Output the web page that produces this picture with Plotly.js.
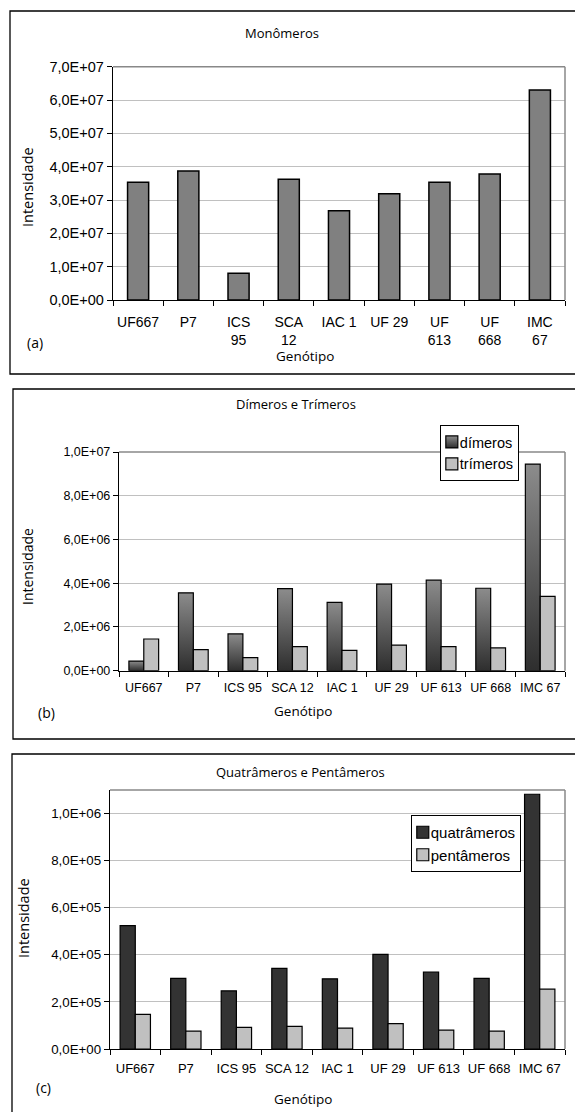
<!DOCTYPE html>
<html>
<head>
<meta charset="utf-8">
<script src="https://cdn.plot.ly/plotly-3.0.1.min.js"></script>
<style>
html,body{margin:0;padding:0;background:#fff;}
#chart{width:575px;height:1112px;}
</style>
</head>
<body>
<div id="chart"></div>
<script>
// ---------- data ----------
const genotipos = ["UF667","P7","ICS 95","SCA 12","IAC 1","UF 29","UF 613","UF 668","IMC 67"];
const genotiposA = ["UF667","P7","ICS<br>95","SCA<br>12","IAC 1","UF 29","UF<br>613","UF<br>668","IMC<br>67"];

const monomeros   = [3.53e7, 3.87e7, 0.80e7, 3.62e7, 2.68e7, 3.19e7, 3.53e7, 3.78e7, 6.30e7];
const dimeros     = [0.44e6, 3.56e6, 1.68e6, 3.75e6, 3.12e6, 3.96e6, 4.14e6, 3.77e6, 9.45e6];
const trimeros    = [1.45e6, 0.96e6, 0.60e6, 1.10e6, 0.93e6, 1.17e6, 1.10e6, 1.04e6, 3.40e6];
const quatrameros = [5.24e5, 3.00e5, 2.47e5, 3.42e5, 2.98e5, 4.02e5, 3.27e5, 3.00e5, 1.082e6];
const pentameros  = [1.47e5, 0.76e5, 0.92e5, 0.96e5, 0.89e5, 1.08e5, 0.80e5, 0.76e5, 2.54e5];

const ticksA = [0,1e7,2e7,3e7,4e7,5e7,6e7,7e7];
const tickTextA = ["0,0E+00","1,0E+07","2,0E+07","3,0E+07","4,0E+07","5,0E+07","6,0E+07","7,0E+07"];
const ticksB = [0,2e6,4e6,6e6,8e6,1e7];
const tickTextB = ["0,0E+00","2,0E+06","4,0E+06","6,0E+06","8,0E+06","1,0E+07"];
const ticksC = [0,2e5,4e5,6e5,8e5,1e6];
const tickTextC = ["0,0E+00","2,0E+05","4,0E+05","6,0E+05","8,0E+05","1,0E+06"];

// ---------- layout helpers ----------
const W = 575, H = 1112;
const fx = x => x / W;
const fy = y => 1 - y / H;
const TICKFONT = "Arial, 'Liberation Sans', sans-serif";
const TXTFONT = "'Open Sans', 'Noto Sans', sans-serif";

function xAx(l, r, anchor, size, standoff){
  return {domain:[fx(l), fx(r)], anchor:anchor, type:'category', showline:true, linecolor:'#000', linewidth:1.2,
    ticks:'outside', tickson:'boundaries', ticklen:5, tickcolor:'#000', tickwidth:1, showgrid:false, tickangle:0,
    ticklabelstandoff:standoff,
    tickfont:{family:TICKFONT, size:size, color:'#000'}, fixedrange:true};
}
function yAx(bottom, top, anchor, range, vals, text, size){
  return {domain:[fy(bottom), fy(top)], anchor:anchor, range:range, tickmode:'array', tickvals:vals, ticktext:text,
    showline:true, linecolor:'#000', linewidth:1.2, ticks:'outside', ticklen:5, tickcolor:'#000', tickwidth:1,
    showgrid:true, gridcolor:'#c0c0c0', gridwidth:1, zeroline:false,
    tickfont:{family:TICKFONT, size:size, color:'#000'}, fixedrange:true};
}

const traces = [
  {type:'bar', x:genotiposA, y:monomeros, xaxis:'x', yaxis:'y', width:0.42, showlegend:false,
   marker:{color:'#808080', line:{color:'#000', width:1.5}}},
  {type:'bar', name:'dímeros', x:genotipos, y:dimeros, xaxis:'x2', yaxis:'y2', legend:'legend',
   marker:{color:'#5c5c5c', line:{color:'#000', width:1.2}}},
  {type:'bar', name:'trímeros', x:genotipos, y:trimeros, xaxis:'x2', yaxis:'y2', legend:'legend',
   marker:{color:'#c0c0c0', line:{color:'#000', width:1.2}}},
  {type:'bar', name:'quatrâmeros', x:genotipos, y:quatrameros, xaxis:'x3', yaxis:'y3', legend:'legend2',
   marker:{color:'#333333', line:{color:'#000', width:1.2}}},
  {type:'bar', name:'pentâmeros', x:genotipos, y:pentameros, xaxis:'x3', yaxis:'y3', legend:'legend2',
   marker:{color:'#c0c0c0', line:{color:'#000', width:1.2}}}
];

function frame(x0,y0,x1,y1){
  return {type:'rect', xref:'paper', yref:'paper', x0:fx(x0), x1:fx(x1), y0:fy(y1), y1:fy(y0),
    line:{color:'#000', width:1.3}, fillcolor:'rgba(0,0,0,0)', layer:'below'};
}
function border(xa, ya){
  return [
    {type:'line', xref:xa+' domain', yref:ya+' domain', x0:0, x1:1, y0:1, y1:1, line:{color:'#888', width:1.5}},
    {type:'line', xref:xa+' domain', yref:ya+' domain', x0:1, x1:1, y0:0, y1:1, line:{color:'#888', width:1.5}}
  ];
}
function ann(text, x, y, size, extra){
  return Object.assign({text:text, xref:'paper', yref:'paper', x:fx(x), y:fy(y), showarrow:false,
    xanchor:'center', yanchor:'middle', font:{family:TXTFONT, size:size, color:'#000'}}, extra||{});
}

const LEG_RIGHT = {legend:518, legend2:520};

const layout = {
  width:W, height:H, margin:{l:0,r:0,t:0,b:0}, paper_bgcolor:'#fff', plot_bgcolor:'#fff',
  barmode:'group', bargap:0.4, bargroupgap:0,
  font:{family:TICKFONT, color:'#000'},
  xaxis: xAx(113, 565, 'y', 14, 9),
  yaxis: yAx(300, 66.7, 'x', [0,7e7], ticksA, tickTextA, 14.5),
  xaxis2: xAx(119, 565, 'y2', 12.5, 5),
  yaxis2: yAx(670.7, 452, 'x2', [0,1e7], ticksB, tickTextB, 12.5),
  xaxis3: xAx(110, 565, 'y3', 13, 7),
  yaxis3: yAx(1049, 790, 'x3', [0,1.1e6], ticksC, tickTextC, 13.3),
  legend: {x:fx(518), y:fy(425), xanchor:'right', yanchor:'top', bgcolor:'#fff', bordercolor:'#000', borderwidth:1,
    font:{family:TICKFONT, size:14.5, color:'#000'}, itemwidth:30, tracegroupgap:0},
  legend2: {x:fx(520), y:fy(815), xanchor:'right', yanchor:'top', bgcolor:'#fff', bordercolor:'#000', borderwidth:1,
    font:{family:TICKFONT, size:15, color:'#000'}, itemwidth:30, tracegroupgap:0},
  shapes: [
    frame(10, 11, 590, 374),
    frame(13, 389, 590, 739),
    frame(12, 754, 590, 1130)
  ].concat(border('x','y'), border('x2','y2'), border('x3','y3')),
  annotations: [
    ann('Monômeros', 282, 33, 13),
    ann('Intensidade', 28, 187, 14.5, {textangle:-90}),
    ann('Genótipo', 305, 356, 13.5),
    ann('(a)', 35, 343, 14),
    ann('Dímeros e Trímeros', 296, 404, 13),
    ann('Intensidade', 27, 566, 14, {textangle:-90}),
    ann('Genótipo', 303, 711, 13.5),
    ann('(b)', 46, 712, 14),
    ann('Quatrâmeros e Pentâmeros', 300, 772, 13),
    ann('Intensidade', 23, 918, 14.5, {textangle:-90}),
    ann('Genótipo', 303, 1099, 13.5),
    ann('(c)', 43, 1087, 14)
  ]
};

function restyleSvg(gd){
  const svgNS = 'http://www.w3.org/2000/svg';
  // vertical gradient fill for the "dímeros" bars, as in the reference
  const defs = gd.querySelector('.main-svg defs');
  if (defs && !gd.querySelector('#dimGrad')) {
    const g = document.createElementNS(svgNS, 'linearGradient');
    g.setAttribute('id', 'dimGrad');
    g.setAttribute('x1','0'); g.setAttribute('y1','0'); g.setAttribute('x2','0'); g.setAttribute('y2','1');
    [['0','#8c8c8c'],['1','#2e2e2e']].forEach(([o,c]) => {
      const s = document.createElementNS(svgNS, 'stop');
      s.setAttribute('offset', o); s.setAttribute('stop-color', c);
      g.appendChild(s);
    });
    defs.appendChild(g);
  }
  const sub = gd.querySelector('.subplot.x2y2');
  if (sub) {
    const tr = sub.querySelectorAll('.barlayer .trace')[0];
    if (tr) tr.querySelectorAll('path').forEach(p => { p.style.fill = 'url(#dimGrad)'; });
  }
  // compact legends (absolute, idempotent): swatch close to text, as in the reference
  const TEXT_X = 19, PT_SHIFT = -9, PAD_R = 6;
  gd.querySelectorAll('.infolayer > g').forEach(leg => {
    const cls = (leg.getAttribute('class') || '').trim();
    if (!(cls in LEG_RIGHT)) return;
    let maxW = 0;
    leg.querySelectorAll('.traces').forEach(t => {
      const lp = t.querySelector('.legendpoints');
      if (lp) lp.setAttribute('transform', 'translate(' + PT_SHIFT + ',0)');
      const tx = t.querySelector('text');
      if (tx) {
        tx.removeAttribute('transform');
        tx.setAttribute('x', TEXT_X);
        tx.querySelectorAll('tspan[x]').forEach(ts => ts.setAttribute('x', TEXT_X));
        try { maxW = Math.max(maxW, tx.getComputedTextLength()); } catch (e) {}
        if (tx.textContent === 'dímeros') {
          t.querySelectorAll('.legendpoints path').forEach(p => { p.style.fill = 'url(#dimGrad)'; });
        }
      }
    });
    if (!maxW) return;
    const width = TEXT_X + maxW + PAD_R;
    const bg = leg.querySelector('rect.bg');
    if (bg) bg.setAttribute('width', width);
    const tf = leg.getAttribute('transform');
    const m = tf && tf.match(/translate\(\s*([-\d.]+)[ ,]+([-\d.]+)\s*\)/);
    if (m) leg.setAttribute('transform', 'translate(' + (LEG_RIGHT[cls] - width) + ',' + m[2] + ')');
  });
}

Plotly.newPlot('chart', traces, layout, {staticPlot:true, displayModeBar:false}).then(gd => {
  restyleSvg(gd);
  [0, 50, 200, 500, 1000].forEach(t => setTimeout(() => restyleSvg(gd), t));
  requestAnimationFrame(() => restyleSvg(gd));
});
</script>
</body>
</html>
